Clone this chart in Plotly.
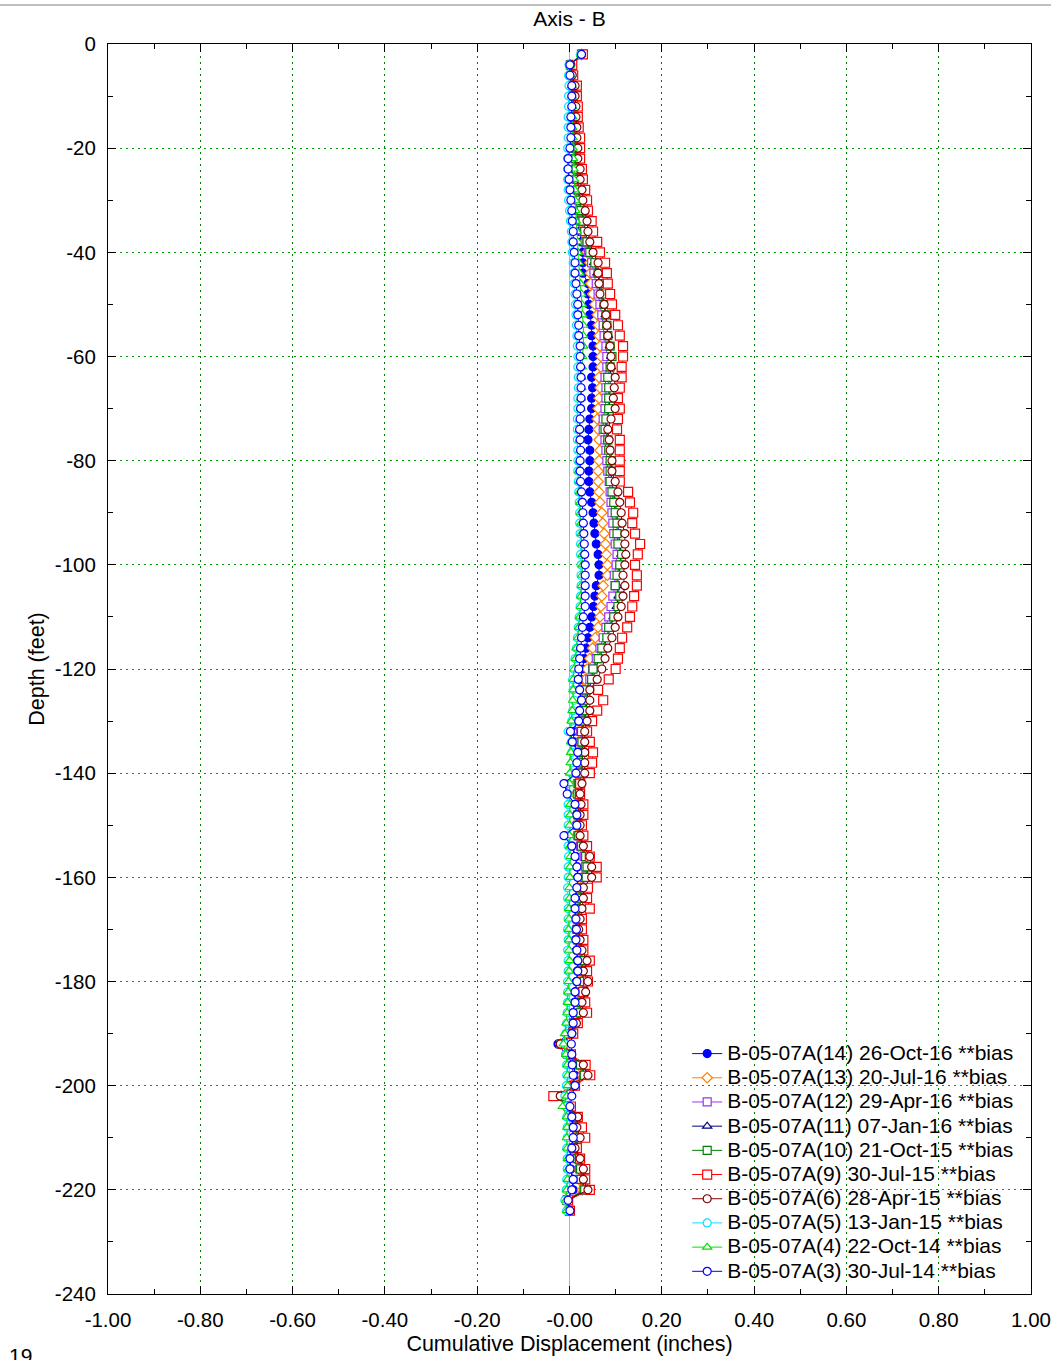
import plotly.graph_objects as go

# Depths (feet)
depths = [-2 * (k + 1) for k in range(112)]

# Series names
names = [
    "B-05-07A(14) 26-Oct-16 **bias",
    "B-05-07A(13) 20-Jul-16 **bias",
    "B-05-07A(12) 29-Apr-16 **bias",
    "B-05-07A(11) 07-Jan-16 **bias",
    "B-05-07A(10) 21-Oct-15 **bias",
    "B-05-07A(9) 30-Jul-15 **bias",
    "B-05-07A(6) 28-Apr-15 **bias",
    "B-05-07A(5) 13-Jan-15 **bias",
    "B-05-07A(4) 22-Oct-14 **bias",
    "B-05-07A(3) 30-Jul-14 **bias",
]

s14 = [0.026, 0.002, 0.003, 0.005, 0.006, 0.006, 0.007, 0.007, 0.008, 0.008,
       0.008, 0.009, 0.010, 0.012, 0.014, 0.016, 0.019, 0.022, 0.026, 0.029,
       0.029, 0.029, 0.040, 0.040, 0.042, 0.044, 0.048, 0.048, 0.051, 0.051,
       0.051, 0.048, 0.050, 0.048, 0.048, 0.044, 0.042, 0.040, 0.044, 0.044,
       0.042, 0.042, 0.044, 0.048, 0.051, 0.053, 0.055, 0.058, 0.062, 0.064,
       0.064, 0.058, 0.055, 0.052, 0.048, 0.044, 0.040, 0.036, 0.032, 0.028,
       0.024, 0.022, 0.024, 0.021, 0.018, 0.008, 0.010, 0.017, 0.016, 0.014,
       -0.008, -0.004, 0.012, 0.015, 0.014, -0.008, 0.006, 0.014, 0.017, 0.018,
       0.016, 0.013, 0.012, 0.013, 0.014, 0.013, 0.015, 0.017, 0.017, 0.015,
       0.012, 0.011, 0.007, 0.002, -0.005, -0.025, -0.008, 0.010, 0.012, 0.004,
       -0.015, -0.004, 0.004, 0.007, 0.007, 0.004, 0.001, 0.003, 0.008, 0.008,
       -0.008, 0.000]

s13 = [0.026, 0.002, 0.003, 0.006, 0.007, 0.007, 0.008, 0.008, 0.009, 0.009,
       0.010, 0.011, 0.013, 0.015, 0.017, 0.020, 0.023, 0.027, 0.032, 0.038,
       0.044, 0.045, 0.046, 0.050, 0.055, 0.060, 0.062, 0.064, 0.066, 0.068,
       0.068, 0.064, 0.066, 0.064, 0.062, 0.060, 0.062, 0.064, 0.066, 0.064,
       0.062, 0.062, 0.064, 0.066, 0.070, 0.072, 0.075, 0.078, 0.080, 0.082,
       0.082, 0.073, 0.070, 0.068, 0.066, 0.062, 0.056, 0.050, 0.044, 0.038,
       0.034, 0.028, 0.027, 0.026, 0.023, 0.020, 0.021, 0.022, 0.021, 0.019,
       0.014, 0.014, 0.016, 0.015, 0.014, 0.015, 0.020, 0.027, 0.030, 0.028,
       0.019, 0.019, 0.017, 0.015, 0.014, 0.016, 0.018, 0.025, 0.020, 0.027,
       0.023, 0.018, 0.020, 0.010, 0.002, -0.019, -0.003, 0.020, 0.027, 0.005,
       -0.018, -0.003, 0.012, 0.010, 0.015, 0.007, 0.014, 0.020, 0.021, 0.028,
       -0.006, 0.000]

s12 = [0.026, 0.002, 0.004, 0.007, 0.008, 0.009, 0.009, 0.010, 0.011, 0.011,
       0.012, 0.014, 0.016, 0.018, 0.020, 0.023, 0.027, 0.031, 0.036, 0.041,
       0.048, 0.053, 0.058, 0.062, 0.066, 0.070, 0.073, 0.075, 0.079, 0.081,
       0.081, 0.077, 0.079, 0.079, 0.077, 0.073, 0.073, 0.077, 0.079, 0.081,
       0.083, 0.086, 0.088, 0.090, 0.092, 0.094, 0.096, 0.099, 0.103, 0.101,
       0.097, 0.099, 0.094, 0.090, 0.085, 0.079, 0.073, 0.066, 0.058, 0.050,
       0.044, 0.035, 0.033, 0.031, 0.028, 0.024, 0.025, 0.026, 0.025, 0.024,
       0.018, 0.017, 0.019, 0.018, 0.017, 0.018, 0.024, 0.032, 0.035, 0.033,
       0.022, 0.022, 0.019, 0.017, 0.016, 0.018, 0.020, 0.028, 0.023, 0.030,
       0.026, 0.020, 0.022, 0.011, 0.002, -0.019, -0.003, 0.022, 0.030, 0.006,
       -0.019, -0.003, 0.013, 0.011, 0.017, 0.008, 0.016, 0.022, 0.023, 0.031,
       -0.006, 0.000]

s11 = [0.026, 0.002, 0.004, 0.008, 0.009, 0.010, 0.011, 0.012, 0.012, 0.013,
       0.014, 0.016, 0.018, 0.020, 0.023, 0.026, 0.030, 0.034, 0.039, 0.045,
       0.053, 0.060, 0.066, 0.071, 0.075, 0.078, 0.081, 0.084, 0.087, 0.090,
       0.090, 0.088, 0.088, 0.087, 0.086, 0.082, 0.080, 0.083, 0.086, 0.089,
       0.090, 0.092, 0.095, 0.099, 0.102, 0.105, 0.106, 0.109, 0.112, 0.110,
       0.106, 0.104, 0.106, 0.102, 0.095, 0.088, 0.082, 0.073, 0.065, 0.056,
       0.050, 0.040, 0.038, 0.036, 0.032, 0.028, 0.029, 0.029, 0.028, 0.027,
       0.020, 0.019, 0.021, 0.020, 0.020, 0.021, 0.027, 0.036, 0.040, 0.037,
       0.025, 0.025, 0.022, 0.019, 0.018, 0.020, 0.023, 0.031, 0.026, 0.033,
       0.029, 0.023, 0.025, 0.013, 0.004, -0.017, -0.001, 0.025, 0.034, 0.008,
       -0.017, -0.001, 0.015, 0.013, 0.019, 0.010, 0.019, 0.026, 0.026, 0.035,
       -0.005, 0.001]

s10 = [0.026, 0.002, 0.004, 0.008, 0.009, 0.010, 0.010, 0.011, 0.012, 0.012,
       0.013, 0.015, 0.017, 0.019, 0.022, 0.025, 0.029, 0.033, 0.038, 0.044,
       0.055, 0.062, 0.068, 0.073, 0.075, 0.079, 0.081, 0.083, 0.088, 0.092,
       0.088, 0.083, 0.085, 0.085, 0.085, 0.079, 0.077, 0.083, 0.085, 0.088,
       0.088, 0.088, 0.092, 0.096, 0.099, 0.103, 0.103, 0.105, 0.113, 0.109,
       0.103, 0.099, 0.109, 0.105, 0.096, 0.085, 0.081, 0.070, 0.062, 0.051,
       0.048, 0.036, 0.035, 0.034, 0.030, 0.026, 0.027, 0.028, 0.027, 0.026,
       0.020, 0.018, 0.020, 0.019, 0.019, 0.020, 0.026, 0.035, 0.038, 0.036,
       0.024, 0.024, 0.021, 0.018, 0.017, 0.019, 0.022, 0.030, 0.025, 0.032,
       0.028, 0.022, 0.024, 0.012, 0.003, -0.018, -0.002, 0.024, 0.032, 0.007,
       -0.018, -0.002, 0.014, 0.012, 0.018, 0.009, 0.018, 0.024, 0.025, 0.033,
       -0.006, 0.000]

s9 = [0.029, 0.006, 0.008, 0.016, 0.016, 0.018, 0.018, 0.020, 0.023, 0.023,
      0.023, 0.027, 0.029, 0.034, 0.038, 0.040, 0.048, 0.051, 0.060, 0.066,
      0.077, 0.081, 0.083, 0.088, 0.092, 0.099, 0.105, 0.109, 0.116, 0.116,
      0.113, 0.113, 0.109, 0.105, 0.109, 0.105, 0.103, 0.109, 0.109, 0.109,
      0.109, 0.109, 0.127, 0.131, 0.138, 0.136, 0.142, 0.153, 0.148, 0.142,
      0.146, 0.146, 0.140, 0.136, 0.131, 0.125, 0.114, 0.109, 0.105, 0.100,
      0.085, 0.062, 0.073, 0.060, 0.049, 0.038, 0.044, 0.051, 0.049, 0.044,
      0.023, 0.023, 0.030, 0.030, 0.027, 0.030, 0.038, 0.044, 0.059, 0.059,
      0.040, 0.038, 0.044, 0.027, 0.027, 0.030, 0.030, 0.044, 0.038, 0.040,
      0.030, 0.034, 0.038, 0.018, 0.008, -0.015, 0.003, 0.035, 0.045, 0.012,
      -0.035, 0.003, 0.018, 0.027, 0.034, 0.016, 0.023, 0.034, 0.034, 0.044,
      -0.003, 0.001]

s6 = [0.026, 0.003, 0.006, 0.012, 0.012, 0.014, 0.014, 0.016, 0.016, 0.018,
      0.018, 0.023, 0.023, 0.027, 0.029, 0.034, 0.038, 0.040, 0.044, 0.051,
      0.062, 0.062, 0.064, 0.066, 0.075, 0.079, 0.081, 0.083, 0.088, 0.090,
      0.090, 0.099, 0.097, 0.095, 0.099, 0.090, 0.083, 0.086, 0.088, 0.092,
      0.092, 0.099, 0.105, 0.109, 0.112, 0.114, 0.120, 0.120, 0.122, 0.120,
      0.116, 0.120, 0.116, 0.112, 0.105, 0.099, 0.092, 0.083, 0.077, 0.070,
      0.060, 0.044, 0.044, 0.044, 0.038, 0.033, 0.033, 0.033, 0.033, 0.033,
      0.027, 0.023, 0.025, 0.023, 0.023, 0.023, 0.030, 0.044, 0.048, 0.048,
      0.030, 0.030, 0.027, 0.023, 0.020, 0.023, 0.027, 0.038, 0.030, 0.040,
      0.035, 0.027, 0.030, 0.015, 0.005, -0.020, 0.000, 0.030, 0.040, 0.010,
      -0.020, 0.000, 0.018, 0.016, 0.023, 0.012, 0.023, 0.030, 0.030, 0.040,
      -0.005, 0.001]

s5 = [0.024, -0.001, -0.002, -0.001, -0.002, -0.002, -0.003, -0.003, -0.003, -0.004,
      -0.004, -0.004, -0.004, -0.003, -0.002, 0.000, 0.002, 0.004, 0.005, 0.006,
      0.008, 0.009, 0.010, 0.012, 0.013, 0.014, 0.015, 0.016, 0.017, 0.018,
      0.018, 0.019, 0.019, 0.018, 0.018, 0.017, 0.017, 0.017, 0.018, 0.018,
      0.018, 0.019, 0.020, 0.021, 0.022, 0.022, 0.023, 0.024, 0.024, 0.025,
      0.025, 0.025, 0.024, 0.023, 0.021, 0.019, 0.017, 0.015, 0.012, 0.009,
      0.007, 0.008, 0.010, 0.007, 0.005, -0.003, 0.004, 0.005, 0.005, 0.004,
      -0.004, -0.004, -0.003, -0.003, -0.003, -0.004, -0.003, -0.002, -0.003, -0.003,
      -0.004, -0.004, -0.003, -0.003, -0.004, -0.003, -0.004, -0.003, -0.003, -0.004,
      -0.004, -0.004, -0.005, -0.006, -0.008, -0.010, -0.008, -0.006, -0.006, -0.007,
      -0.010, -0.008, -0.006, -0.005, -0.005, -0.006, -0.005, -0.005, -0.006, -0.007,
      -0.010, -0.006]

s4 = [0.025, 0.001, 0.002, 0.005, 0.005, 0.006, 0.006, 0.006, 0.007, 0.007,
      0.008, 0.009, 0.010, 0.011, 0.012, 0.013, 0.014, 0.016, 0.018, 0.018,
      0.020, 0.022, 0.024, 0.026, 0.027, 0.028, 0.030, 0.030, 0.030, 0.028,
      0.027, 0.026, 0.026, 0.025, 0.024, 0.023, 0.022, 0.022, 0.023, 0.022,
      0.020, 0.021, 0.022, 0.023, 0.024, 0.025, 0.026, 0.027, 0.028, 0.028,
      0.027, 0.026, 0.025, 0.024, 0.022, 0.020, 0.018, 0.015, 0.013, 0.010,
      0.008, 0.008, 0.007, 0.006, 0.004, 0.002, 0.003, 0.003, 0.002, 0.001,
      0.000, 0.000, 0.001, 0.001, 0.000, 0.000, 0.001, 0.002, 0.001, 0.001,
      0.000, 0.000, -0.001, -0.001, -0.002, -0.001, -0.001, 0.000, -0.001, -0.002,
      -0.003, -0.004, -0.005, -0.007, -0.010, -0.013, -0.008, -0.005, -0.004, -0.004,
      -0.006, -0.015, -0.006, -0.005, -0.006, -0.005, -0.004, -0.003, -0.004, -0.006,
      -0.008, -0.006]

s3 = [0.026, 0.001, 0.001, 0.005, 0.005, 0.005, 0.003, 0.003, 0.003, 0.001,
      -0.003, -0.003, -0.001, 0.001, 0.003, 0.005, 0.006, 0.008, 0.008, 0.010,
      0.012, 0.012, 0.014, 0.016, 0.018, 0.018, 0.020, 0.020, 0.023, 0.023,
      0.024, 0.025, 0.025, 0.025, 0.024, 0.023, 0.022, 0.023, 0.024, 0.023,
      0.023, 0.024, 0.026, 0.028, 0.029, 0.030, 0.031, 0.032, 0.033, 0.034,
      0.034, 0.034, 0.034, 0.034, 0.030, 0.028, 0.026, 0.024, 0.022, 0.020,
      0.019, 0.022, 0.026, 0.022, 0.020, 0.002, 0.006, 0.018, 0.016, 0.014,
      -0.012, -0.005, 0.012, 0.016, 0.016, -0.012, 0.005, 0.012, 0.016, 0.018,
      0.016, 0.012, 0.012, 0.014, 0.015, 0.014, 0.016, 0.018, 0.018, 0.016,
      0.012, 0.012, 0.008, 0.008, 0.005, 0.004, 0.005, 0.006, 0.008, 0.012,
      0.005, 0.001, 0.005, 0.008, 0.008, 0.005, 0.001, 0.001, 0.008, 0.005,
      -0.003, 0.001]

series = [s14, s13, s12, s11, s10, s9, s6, s5, s4, s3]
colors = ["#0000ff", "#ff8000", "#9933ff", "#000080", "#008000",
          "#ff0000", "#800000", "#00e5ff", "#00e000", "#0000ff"]
symbols = ["circle", "diamond", "square", "triangle-up", "square",
           "square", "circle", "circle", "triangle-up", "circle"]
filled = [True, False, False, False, False, False, False, False, False, False]
sizes = [8, 8, 8, 8, 8, 9, 8, 8, 8, 8]

x_tickvals = [-1.0, -0.8, -0.6, -0.4, -0.2, 0.0, 0.2, 0.4, 0.6, 0.8, 1.0]
x_ticktext = ["-1.00", "-0.80", "-0.60", "-0.40", "-0.20", "-0.00",
              "0.20", "0.40", "0.60", "0.80", "1.00"]
y_tickvals = [0, -20, -40, -60, -80, -100, -120, -140, -160, -180, -200, -220, -240]
y_ticktext = ["0", "-20", "-40", "-60", "-80", "-100", "-120", "-140",
              "-160", "-180", "-200", "-220", "-240"]
x_minor = [-0.9, -0.7, -0.5, -0.3, -0.1, 0.1, 0.3, 0.5, 0.7, 0.9]
y_minor = [-10, -30, -50, -70, -90, -110, -130, -150, -170, -190, -210, -230]

FONT = "Liberation Sans, Arial, sans-serif"

fig = go.Figure()
for name, vals, c, sym, fl, sz in zip(names, series, colors, symbols, filled, sizes):
    fig.add_trace(go.Scatter(
        x=vals, y=depths[:len(vals)],
        name='<span style="font-size:21px">' + name + '</span>',
        mode="lines+markers",
        line=dict(color=c, width=1),
        marker=dict(symbol=sym, size=sz, color=c if fl else "white",
                    line=dict(color=c, width=1.2)),
    ))

fig.update_layout(
    width=1051, height=1360,
    margin=dict(l=108, r=20, t=44, b=66),
    paper_bgcolor="white", plot_bgcolor="white",
    font=dict(family=FONT, size=20.5, color="black"),
    title=dict(text="Axis - B", x=0.5, xref="paper", xanchor="center",
               y=1 - 19 / 1360, yref="container", yanchor="middle",
               font=dict(family=FONT, size=21, color="black")),
    showlegend=True,
    legend=dict(x=0.6275, xanchor="left", y=0.206, yanchor="top",
                bgcolor="rgba(0,0,0,0)", borderwidth=0,
                font=dict(family=FONT, size=16.3, color="black"),
                itemwidth=30, tracegroupgap=0),
    xaxis=dict(range=[-1, 1], tickmode="array", tickvals=x_tickvals, ticktext=x_ticktext,
               ticks="inside", ticklen=8, tickcolor="black", ticklabelstandoff=7,
               tickfont=dict(family=FONT, size=20.5),
               showline=True, linecolor="black", linewidth=1, mirror="ticks",
               showgrid=True, gridcolor="#008000", griddash="2px,4px", gridwidth=1,
               zeroline=True, zerolinecolor="#b4b4b4", zerolinewidth=1,
               automargin=False,
               minor=dict(tickmode="array", tickvals=x_minor, ticks="inside",
                          ticklen=5, tickcolor="black", showgrid=False),
               title=dict(text="Cumulative Displacement (inches)", standoff=6,
                          font=dict(family=FONT, size=21.5))),
    yaxis=dict(range=[-240, 0], tickmode="array", tickvals=y_tickvals, ticktext=y_ticktext,
               ticks="inside", ticklen=8, tickcolor="black", ticklabelstandoff=7,
               tickfont=dict(family=FONT, size=20.5),
               showline=True, linecolor="black", linewidth=1, mirror="ticks",
               showgrid=True, gridcolor="#00a000", griddash="2px,4px", gridwidth=1,
               zeroline=False, automargin=False,
               minor=dict(tickmode="array", tickvals=y_minor, ticks="inside",
                          ticklen=5, tickcolor="black", showgrid=False),
               title=dict(text="Depth (feet)", standoff=4,
                          font=dict(family=FONT, size=21.5))),
)

# page border line near top and page number
fig.add_shape(type="line", xref="paper", yref="paper",
              x0=-108 / 923, x1=(1051 - 108) / 923, y0=1 + 39 / 1250, y1=1 + 39 / 1250,
              line=dict(color="#808080", width=1))
fig.add_annotation(text="19", xref="paper", yref="paper", x=(20 - 108) / 923,
                   y=(1294 - 1355) / 1250, xanchor="center", yanchor="middle",
                   showarrow=False, font=dict(family=FONT, size=21, color="black"))

fig.write_html("out.html", config={"displayModeBar": False},
               post_script="document.body.style.margin='0px';document.body.style.padding='0px';")
